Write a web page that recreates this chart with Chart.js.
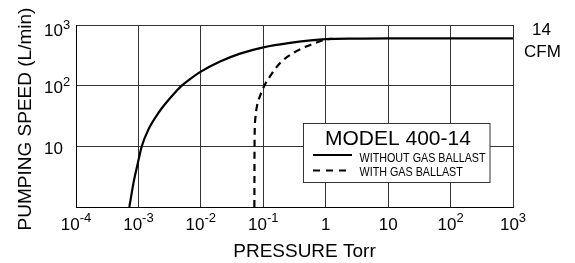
<!DOCTYPE html>
<html><head><meta charset="utf-8">
<script src="https://cdn.jsdelivr.net/npm/chart.js@4/dist/chart.umd.min.js"></script>
<style>html,body{margin:0;padding:0;background:#fff;overflow:hidden;} #wrap{width:575px;height:263px;position:relative;}</style>
</head><body><div id="wrap"><canvas id="c" width="575" height="263"></canvas></div>
<script>
// ---- data ----
const solidPressure = [7.15e-4, 8.5e-4, 9.75e-4, 1.13e-3, 1.44e-3, 2.09e-3, 3.42e-3, 4.94e-3, 6.3e-3, 1e-2, 2.03e-2, 0.0425, 0.1, 0.268, 1, 3, 10, 100, 1000];
const solidSpeed    = [1, 2.77, 5.2, 10, 18.8, 35.5, 67, 100, 122, 170, 250, 337, 428, 507, 585, 595, 600, 600, 600];
const dashedPressure = [0.072, 0.0724, 0.0742, 0.0795, 0.089, 0.104, 0.128, 0.186, 0.303, 0.497, 0.813, 1.05, 1.3];
const dashedSpeed    = [1, 10, 27, 47, 68, 100, 142, 237, 347, 446, 540, 584, 592];
const xTickValues   = [1e-4, 1e-3, 1e-2, 1e-1, 1, 10, 100, 1000];
const xTickMantissa = ['10', '10', '10', '10', '1', '10', '10', '10'];
const xTickExponent = ['-4', '-3', '-2', '-1', '', '', '2', '3'];
const yTickValues   = [1, 10, 100, 1000];
const yTickMantissa = ['', '10', '10', '10'];
const yTickExponent = ['', '', '2', '3'];
const seriesLabels  = ['WITHOUT GAS BALLAST', 'WITH GAS BALLAST'];
const legendTitle   = 'MODEL 400-14';
const xAxisTitle    = 'PRESSURE Torr';
const yAxisTitle    = 'PUMPING SPEED (L/min)';
const sideNote      = ['14', 'CFM'];

const FONT = '"Liberation Sans", Arial, Helvetica, sans-serif';
const toPts = (xs, ys) => xs.map((x, i) => ({x: x, y: ys[i]}));

const textPlugin = {
  id: 'texts',
  afterDraw(chart) {
    const ctx = chart.ctx;
    const xs = chart.scales.x, ys = chart.scales.y;
    ctx.save();
    ctx.fillStyle = '#000';
    ctx.textBaseline = 'alphabetic';
    // x tick labels
    xTickValues.forEach((v, i) => {
      const px = xs.getPixelForValue(v);
      ctx.font = '17px ' + FONT;
      const wm = ctx.measureText(xTickMantissa[i]).width;
      ctx.font = '13px ' + FONT;
      const we = ctx.measureText(xTickExponent[i]).width;
      const x0 = px - (wm + we) / 2;
      ctx.textAlign = 'left';
      ctx.font = '17px ' + FONT;
      ctx.fillText(xTickMantissa[i], x0, 229.5);
      ctx.font = '13px ' + FONT;
      ctx.fillText(xTickExponent[i], x0 + wm, 222);
    });
    // y tick labels
    yTickValues.forEach((v, i) => {
      if (!yTickMantissa[i]) return;
      const py = ys.getPixelForValue(v);
      const base = Math.max(py + 7.8, 36);
      ctx.textAlign = 'left';
      ctx.font = '17px ' + FONT;
      ctx.fillText(yTickMantissa[i], 44, base);
      const wm = ctx.measureText(yTickMantissa[i]).width;
      ctx.font = '13px ' + FONT;
      ctx.fillText(yTickExponent[i], 44 + wm, base - 7);
    });
    // axis titles
    ctx.font = '19px ' + FONT;
    ctx.textAlign = 'center';
    ctx.fillText(xAxisTitle, 304.5, 257);
    ctx.save();
    ctx.translate(31, 119);
    ctx.rotate(-Math.PI / 2);
    ctx.fillText(yAxisTitle, 0, 0);
    ctx.restore();
    // side note
    ctx.font = '17px ' + FONT;
    ctx.fillText(sideNote[0], 541.5, 34.5);
    ctx.fillText(sideNote[1], 542.5, 56.5);
    // legend box
    ctx.fillStyle = '#fff';
    ctx.fillRect(303.5, 123.5, 186.5, 59);
    ctx.strokeStyle = '#333';
    ctx.lineWidth = 1;
    ctx.strokeRect(303.5, 123.5, 186.5, 59);
    ctx.fillStyle = '#000';
    ctx.textAlign = 'left';
    ctx.font = '21px ' + FONT;
    ctx.fillText(legendTitle, 325, 145);
    // legend samples
    ctx.strokeStyle = '#000';
    ctx.lineWidth = 2;
    ctx.beginPath(); ctx.moveTo(313, 155); ctx.lineTo(352, 155); ctx.stroke();
    ctx.setLineDash([7, 6]);
    ctx.beginPath(); ctx.moveTo(313, 170.5); ctx.lineTo(352, 170.5); ctx.stroke();
    ctx.setLineDash([]);
    ctx.font = '12.5px ' + FONT;
    [[seriesLabels[0], 162.3], [seriesLabels[1], 175.8]].forEach(([t, y]) => {
      ctx.save();
      ctx.translate(359.5, y);
      ctx.scale(0.86, 1);
      ctx.fillText(t, 0, 0);
      ctx.restore();
    });
    ctx.restore();
  }
};

new Chart(document.getElementById('c'), {
  type: 'line',
  data: {
    datasets: [
      { label: seriesLabels[0], data: toPts(solidPressure, solidSpeed), borderColor: '#000', borderWidth: 2.2,
        pointRadius: 0, cubicInterpolationMode: 'monotone', fill: false },
      { label: seriesLabels[1], data: toPts(dashedPressure, dashedSpeed), borderColor: '#000', borderWidth: 2.2,
        borderDash: [7, 5], pointRadius: 0, cubicInterpolationMode: 'monotone', fill: false }
    ]
  },
  options: {
    responsive: false,
    animation: false,
    layout: { padding: { left: 76, top: 25, right: 62, bottom: 56 } },
    plugins: { legend: { display: false }, tooltip: { enabled: false }, title: { display: false } },
    scales: {
      x: {
        type: 'logarithmic', min: 1e-4, max: 1e3,
        afterBuildTicks: (s) => { s.ticks = xTickValues.map(v => ({value: v})); },
        ticks: { display: false },
        grid: { color: '#333', lineWidth: 1, drawTicks: false },
        border: { display: true, color: '#000', width: 1 }
      },
      y: {
        type: 'logarithmic', min: 1, max: 1e3,
        afterBuildTicks: (s) => { s.ticks = yTickValues.map(v => ({value: v})); },
        ticks: { display: false },
        grid: { color: '#333', lineWidth: 1, drawTicks: false },
        border: { display: true, color: '#000', width: 1 }
      }
    }
  },
  plugins: [textPlugin]
});
</script></body></html>
